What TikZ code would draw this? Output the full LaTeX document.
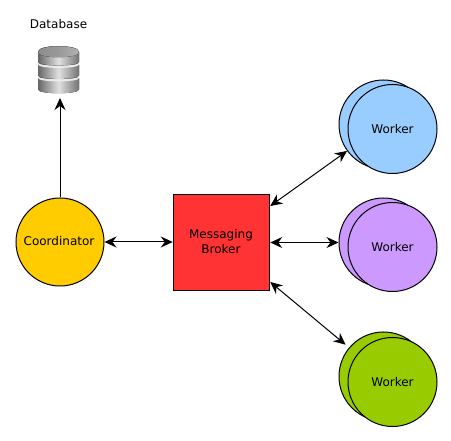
\documentclass[tikz,border=0pt]{standalone}
\usepackage{fontspec}
\setmainfont{DejaVu Sans}
\usetikzlibrary{arrows.meta}
\definecolor{wblue}{HTML}{99CCFF}
\definecolor{wpurple}{HTML}{CC99FF}
\definecolor{wgreen}{HTML}{99CC00}
\definecolor{coord}{HTML}{FFCC00}
\definecolor{broker}{HTML}{FF3333}
\tikzset{
  x=1pt,y=-1pt,
  lbl/.style={font=\fontsize{12pt}{15pt}\selectfont,text=black,align=center,inner sep=0pt},
  workerdisc/.style={circle,draw=black,line width=1pt,minimum size=89pt,inner sep=0pt,fill=#1},
  link/.style={draw=black,line width=1pt,{Stealth[length=12pt,width=11pt,inset=4pt]}-{Stealth[length=12pt,width=11pt,inset=4pt]}},
  uplink/.style={draw=black,line width=1pt,-{Stealth[length=12pt,width=11pt,inset=4pt]}}
}
\begin{document}
\begin{tikzpicture}
\useasboundingbox (0,0) rectangle (451,441);
\fill[white] (0,0) rectangle (451,441);
% database icon
\fill[left color=black!60,right color=black!55,middle color=black!12]
  (38,78) -- (38,89.5) .. controls (38,94.5) and (79,94.5) .. (79,89.5) -- (79,78)
  .. controls (79,74) and (38,74) .. (38,78) -- cycle;
\fill[black!8] (38,76) .. controls (38,80.5) and (79,80.5) .. (79,76) -- (79,78) .. controls (79,82.5) and (38,82.5) .. (38,78) -- cycle;
\fill[left color=black!60,right color=black!55,middle color=black!12]
  (38,65) -- (38,75.5) .. controls (38,80) and (79,80) .. (79,75.5) -- (79,65)
  .. controls (79,61) and (38,61) .. (38,65) -- cycle;
\fill[black!8] (38,62.5) .. controls (38,67) and (79,67) .. (79,62.5) -- (79,64.5) .. controls (79,69) and (38,69) .. (38,64.5) -- cycle;
\fill[left color=black!60,right color=black!55,middle color=black!12]
  (38,52) -- (38,62) .. controls (38,66.5) and (79,66.5) .. (79,62) -- (79,52)
  .. controls (79,44) and (38,44) .. (38,52) -- cycle;
\fill[left color=black!45,right color=black!30,middle color=black!40]
  (38,52) .. controls (38,59) and (79,59) .. (79,52) .. controls (79,44.5) and (38,44.5) .. (38,52) -- cycle;
\node[lbl] (dblabel) at (58.5,24.5) {Database};
\coordinate (dbbottom) at (60,98);
% workers
\node[workerdisc=wblue] (w1b) at (383.5,124.5) {};
\node[workerdisc=wblue] (w1) at (392.5,129) {};
\node[lbl] (w1t) at (w1) {Worker};
\node[workerdisc=wpurple] (w2b) at (383.5,242.5) {};
\node[workerdisc=wpurple] (w2) at (392.5,247) {};
\node[lbl] (w2t) at (w2) {Worker};
\node[workerdisc=wgreen] (w3b) at (383.5,376.5) {};
\node[workerdisc=wgreen] (w3) at (392.5,382) {};
\node[lbl] (w3t) at (w3) {Worker};
% coordinator
\node[circle,draw=black,line width=1pt,fill=coord,minimum size=88pt,inner sep=0pt] (co) at (60,242) {};
\node[lbl] (cot) at (59,241.5) {Coordinator};
% broker
\node[draw=black,line width=1pt,fill=broker,minimum width=96.5pt,minimum height=96.5pt,inner sep=0pt] (br) at (221.5,242.5) {};
\node[lbl] (brt) at (221,241.5) {Messaging\\Broker};
% connectors
\draw[uplink] (co.north) -- (dbbottom);
\draw[link] (co.east) -- (br.west |- co.east);
\draw[link] (br.east) -- (w2b.west |- br.east);
\draw[link] ([yshift=36.5pt]br.east) -- (w1b.-144);
\draw[link,shorten >=4.5pt] ([yshift=-39.5pt]br.east) -- (w3b.140);
\end{tikzpicture}
\end{document}
